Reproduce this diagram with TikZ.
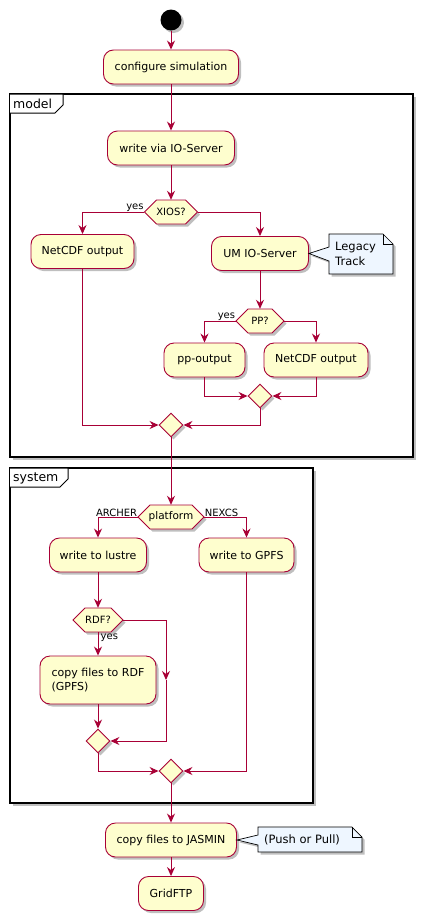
\documentclass[tikz,border=0pt]{standalone}
\usepackage{fontspec}
\setmainfont{DejaVu Sans}
\usetikzlibrary{shapes.geometric,arrows.meta,calc,shadows}
\definecolor{crim}{HTML}{A80036}
\definecolor{ivory}{HTML}{FEFECE}
\definecolor{notebg}{HTML}{EEF6FF}
\newcommand\hexnode[5]{%
  \draw[hexst] (#2-#4,#3) -- (#2-#4+12,#3-12) -- (#2+#4-12,#3-12) -- (#2+#4,#3)
     -- (#2+#4-12,#3+12) -- (#2-#4+12,#3+12) -- cycle;
  \node[hexlbl, minimum width=2*#4pt] (#1) at (#2,#3) {#5};}
\begin{document}
\begin{tikzpicture}[x=1pt,y=-1pt,
  sh/.style={drop shadow={shadow xshift=2.5pt,shadow yshift=-2.5pt,opacity=0.25,fill=black}},
  act/.style={draw=crim,fill=ivory,rounded corners=10pt,line width=0.9pt,
     minimum height=34pt,inner sep=0pt,font=\fontsize{11}{14}\selectfont,sh},
  hexst/.style={draw=crim,fill=ivory,line width=0.9pt,sh},
  hexlbl/.style={inner sep=0pt,minimum height=24pt,font=\fontsize{10}{11}\selectfont},
  dia/.style={diamond,draw=crim,fill=ivory,line width=0.9pt,minimum size=24pt,
     aspect=1,inner sep=0pt,sh},
  flow/.style={draw=crim,line width=0.9pt},
  arr/.style={flow,-{Stealth[length=9pt,width=8pt,inset=3pt]}},
  lbl/.style={inner sep=0.5pt,font=\fontsize{10}{11}\selectfont},
  frame/.style={draw=black,line width=1.4pt,fill=white,
     drop shadow={shadow xshift=3pt,shadow yshift=-3pt,opacity=0.25,fill=black}},
  tab/.style={draw=black,line width=1pt,fill=white},
  ftitle/.style={anchor=west,inner sep=0pt,font=\fontsize{12.5}{14}\selectfont},
  notest/.style={draw=black,line width=0.7pt,fill=notebg,sh},
  notetxt/.style={anchor=west,inner sep=0pt,align=left,font=\fontsize{11.5}{15}\selectfont}]
\useasboundingbox (0,0) rectangle (423,921);

% frames
\draw[frame] (10,94) rectangle (413,457);
\draw[tab] (10,94) -- (63,94) -- (63,105) -- (55,113) -- (10,113);
\node[ftitle] (tmodel) at (13,104) {model};
\draw[frame] (10,468) rectangle (313,803);
\draw[tab] (10,468) -- (68,468) -- (68,479) -- (60,487) -- (10,487);
\node[ftitle] (tsystem) at (13,478) {system};

% nodes
\node[circle,fill=black,minimum size=21pt,inner sep=0pt,sh] (start) at (171,20) {};
\node[act,minimum width=135pt] (cfg) at (171,67) {configure simulation};
\node[act,minimum width=127pt] (wio) at (171,148) {write via IO-Server};
\hexnode{xios}{171}{212}{26.5}{XIOS?}
\node[act,minimum width=103pt] (nc1) at (82.5,251.5) {NetCDF output};
\node[act,minimum width=97pt] (um) at (260,253.5) {UM IO-Server};
\hexnode{pp}{260}{321}{24}{PP?}
\node[act,minimum width=81pt] (ppo) at (204.5,360) {pp-output};
\node[act,minimum width=104pt] (nc2) at (316,360) {NetCDF output};
\node[dia] (m1) at (260,396) {};
\node[dia] (m2) at (171,425) {};

\hexnode{plat}{171}{517}{33}{\fontsize{10.5}{12}\selectfont platform}
\node[act,minimum width=97pt] (lus) at (98,555) {write to lustre};
\node[act,minimum width=95pt] (gpfs) at (246.5,555) {write to GPFS};
\hexnode{rdf}{98}{620}{25}{RDF?}
\node[act,minimum width=116pt,minimum height=48pt,align=left] (crdf) at (98,680) {copy files to RDF\\(GPFS)};
\node[dia] (m3) at (98,741) {};
\node[dia] (m4) at (171,771) {};

\node[act,minimum width=131pt] (jas) at (171,840) {copy files to JASMIN};
\node[act,minimum width=65pt] (grid) at (171,893.5) {GridFTP};

% notes
\draw[notest] (329,234) -- (383,234) -- (393,244) -- (393,274) -- (329,274) -- (329,261)
   -- (um.east) -- (329,247) -- cycle;
\draw[draw=black,line width=0.7pt] (383,234) -- (383,244) -- (393,244);
\node[notetxt] (n1) at (335,254) {Legacy\\Track};
\draw[notest] (258,827) -- (352,827) -- (362,837) -- (362,852) -- (258,852) -- (258,845)
   -- (jas.east) -- (258,835) -- cycle;
\draw[draw=black,line width=0.7pt] (352,827) -- (352,837) -- (362,837);
\node[notetxt] (n2) at (264,840) {(Push or Pull)};

% connectors
\draw[arr] (start) -- (cfg);
\draw[arr] (cfg) -- (wio);
\draw[arr] (wio) -- (xios.north);
\draw[arr] (xios.west) -| (nc1.north);
\node[lbl,anchor=south east] (yes1) at (xios.west) {yes};
\draw[arr] (xios.east) -| (um.north);
\draw[arr] (um) -- (pp.north);
\draw[arr] (pp.west) -| (ppo.north);
\node[lbl,anchor=south east] (yes2) at (pp.west) {yes};
\draw[arr] (pp.east) -| (nc2.north);
\draw[arr] (ppo.south) |- (m1.west);
\draw[arr] (nc2.south) |- (m1.east);
\draw[arr] (m1.south) |- (m2.east);
\draw[arr] (nc1.south) |- (m2.west);
\draw[arr] (m2.south) -- (plat.north);
\draw[arr] (plat.west) -| (lus.north);
\node[lbl,anchor=south east] (arch) at (plat.west) {ARCHER};
\draw[arr] (plat.east) -| (gpfs.north);
\node[lbl,anchor=south west] (nex) at (plat.east) {NEXCS};
\draw[arr] (lus) -- (rdf.north);
\draw[arr] (rdf.south) -- (crdf.north);
\node[lbl,anchor=north west] (yes3) at ([xshift=2pt,yshift=-1pt]rdf.south) {yes};
\coordinate (rr) at (166,680);
\draw[arr] (rdf.east) -| (rr);
\draw[arr] (rr) |- (m3.east);
\draw[arr] (crdf.south) -- (m3.north);
\draw[arr] (m3.south) |- (m4.west);
\draw[arr] (gpfs.south) |- (m4.east);
\draw[arr] (m4.south) -- (jas.north);
\draw[arr] (jas) -- (grid);
\end{tikzpicture}
\end{document}
